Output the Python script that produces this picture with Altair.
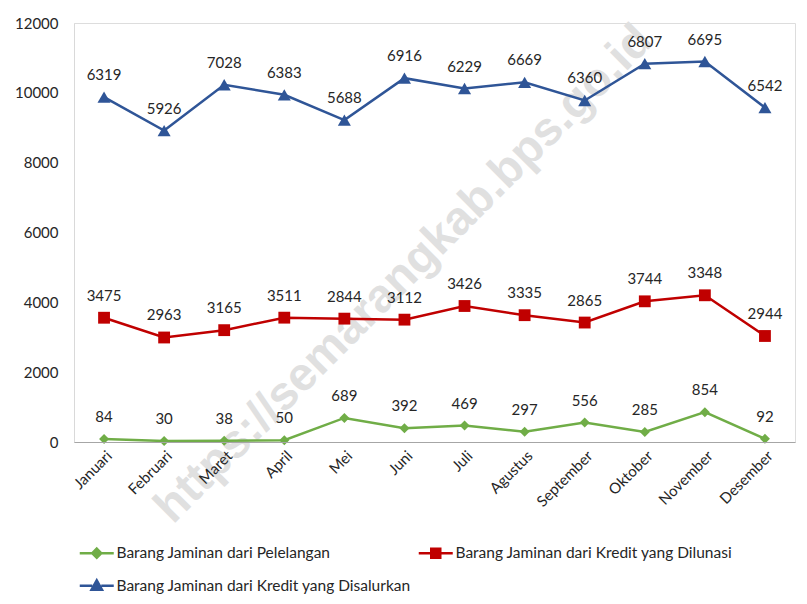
import altair as alt
import pandas as pd

months = ["Januari", "Februari", "Maret", "April", "Mei", "Juni", "Juli",
          "Agustus", "September", "Oktober", "November", "Desember"]
series_names = ["Barang Jaminan dari Pelelangan",
                "Barang Jaminan dari Kredit yang Dilunasi",
                "Barang Jaminan dari Kredit yang Disalurkan"]
pelelangan = [84, 30, 38, 50, 689, 392, 469, 297, 556, 285, 854, 92]
dilunasi = [3475, 2963, 3165, 3511, 2844, 3112, 3426, 3335, 2865, 3744, 3348, 2944]
disalurkan = [6319, 5926, 7028, 6383, 5688, 6916, 6229, 6669, 6360, 6807, 6695, 6542]
colors = ["#70AD47", "#C00000", "#2F5597"]
shapes = ["diamond", "square", "triangle-up"]
marker_sizes = [100, 140, 170]
legend_paths = [
    "M-3.4,0L-0.9,0M0.9,0L3.4,0M0,-0.9L0.9,0L0,0.9L-0.9,0Z",
    "M-3.4,0L-0.9,0M0.9,0L3.4,0M-0.9,-0.9L0.9,-0.9L0.9,0.9L-0.9,0.9Z",
    "M-3.4,0L-0.9,0M0.9,0L3.4,0M0,-1.1L1.05,0.8L-1.05,0.8Z",
]

rows = []
for i, m in enumerate(months):
    cum = 0
    for s, vals in zip(series_names, [pelelangan, dilunasi, disalurkan]):
        cum += vals[i]
        rows.append({"month": m, "series": s, "value": vals[i], "cum": cum})
df = pd.DataFrame(rows)

x_enc = alt.X("month:N", sort=months, title=None,
              scale=alt.Scale(padding=0.5),
              axis=alt.Axis(labelAngle=-45, labelFontSize=15, labelFont="Lato",
                            labelColor="#262626", ticks=False, domainColor="#a6a6a6",
                            domainWidth=1, labelPadding=6, zindex=1))
y_enc = alt.Y("cum:Q", title=None,
              scale=alt.Scale(domain=[0, 12000], nice=False),
              axis=alt.Axis(values=list(range(0, 12001, 2000)), grid=False, ticks=False,
                            format="d",
                            labelFontSize=15, labelFont="Lato", labelColor="#262626",
                            domainColor="#d9d9d9", labelPadding=16))

watermark = alt.Chart(pd.DataFrame({"t": ["https://semarangkab.bps.go.id"]})).mark_text(
    font="Liberation Sans", fontWeight="bold", fontSize=47, angle=315,
    color="#e0e0e0", align="center", baseline="middle"
).encode(text="t:N", x=alt.value(330), y=alt.value(251))

base = alt.Chart(df)

legend_def = alt.Legend(
    title=None, orient="none", legendX=-2, legendY=522, direction="horizontal",
    columns=2, columnPadding=-7, rowPadding=12,
    symbolSize=100, symbolStrokeWidth=2.5, symbolOpacity=1,
    symbolOffset=17, labelOffset=12,
    labelFont="Lato", labelFontSize=15.5, labelColor="#262626",
    labelLimit=400)

legend_layer = base.mark_point(opacity=0, size=100, strokeWidth=2.5, filled=True).encode(
    x=x_enc, y=y_enc,
    color=alt.Color("series:N", scale=alt.Scale(domain=series_names, range=colors),
                    legend=legend_def),
    shape=alt.Shape("series:N", scale=alt.Scale(domain=series_names, range=legend_paths),
                    legend=legend_def),
)

lines = base.mark_line(strokeWidth=2.5).encode(
    x=x_enc, y=y_enc,
    color=alt.Color("series:N", scale=alt.Scale(domain=series_names, range=colors),
                    legend=None),
    detail="series:N")

point_layers = []
for s, c, sh, sz in zip(series_names, colors, shapes, marker_sizes):
    point_layers.append(
        base.transform_filter(alt.datum.series == s).mark_point(
            shape=sh, filled=True, size=sz, color=c, opacity=1
        ).encode(x=x_enc, y=y_enc))

labels = base.mark_text(font="Lato", fontSize=15, color="#262626",
                        baseline="middle", dy=-22).encode(
    x=x_enc, y=y_enc, text="value:Q")

chart = alt.layer(watermark, legend_layer, lines, *point_layers, labels).properties(
    width=721, height=419,
    autosize=alt.AutoSizeParams(type="none"),
    padding={"left": 66, "top": 15, "right": 4, "bottom": 154},
).configure_view(stroke=None).configure(background="white")

chart.save("out.html", embed_options={"renderer": "svg", "actions": False})
